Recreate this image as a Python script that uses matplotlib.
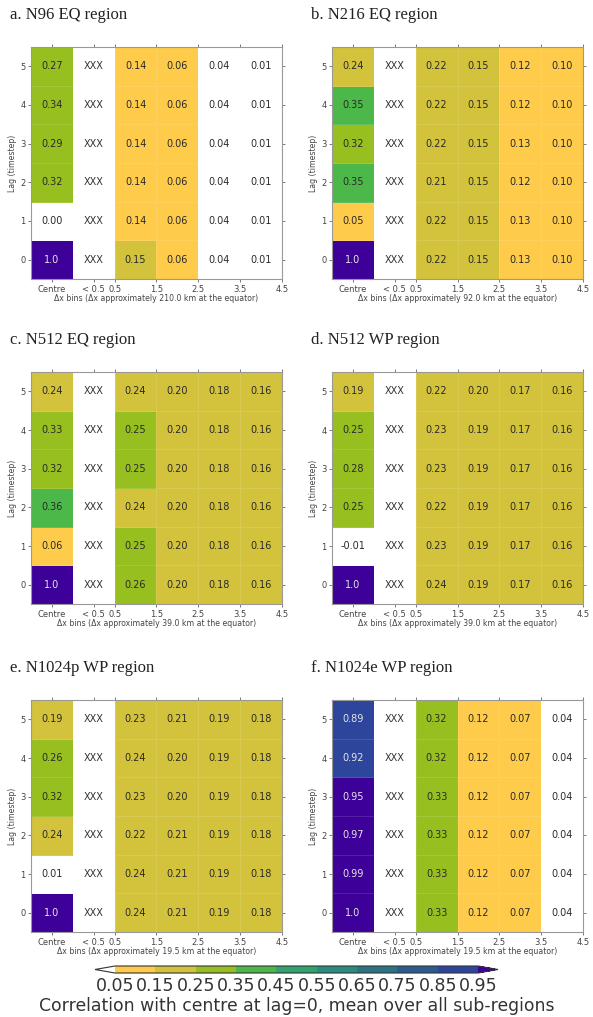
import numpy as np
import matplotlib
matplotlib.use('Agg')
import matplotlib.pyplot as plt
from matplotlib.colors import ListedColormap, BoundaryNorm
from matplotlib.cm import ScalarMappable

# Data: rows = lag 0..5, columns = Centre, <0.5 (no data), 0.5-1.5, 1.5-2.5, 2.5-3.5, 3.5-4.5
X = np.nan
n96_eq = [
    [1.0, X, 0.15, 0.06, 0.04, 0.01],
    [0.00, X, 0.14, 0.06, 0.04, 0.01],
    [0.32, X, 0.14, 0.06, 0.04, 0.01],
    [0.29, X, 0.14, 0.06, 0.04, 0.01],
    [0.34, X, 0.14, 0.06, 0.04, 0.01],
    [0.27, X, 0.14, 0.06, 0.04, 0.01],
]
n216_eq = [
    [1.0, X, 0.22, 0.15, 0.13, 0.10],
    [0.05, X, 0.22, 0.15, 0.13, 0.10],
    [0.35, X, 0.21, 0.15, 0.12, 0.10],
    [0.32, X, 0.22, 0.15, 0.13, 0.10],
    [0.35, X, 0.22, 0.15, 0.12, 0.10],
    [0.24, X, 0.22, 0.15, 0.12, 0.10],
]
n512_eq = [
    [1.0, X, 0.26, 0.20, 0.18, 0.16],
    [0.06, X, 0.25, 0.20, 0.18, 0.16],
    [0.36, X, 0.24, 0.20, 0.18, 0.16],
    [0.32, X, 0.25, 0.20, 0.18, 0.16],
    [0.33, X, 0.25, 0.20, 0.18, 0.16],
    [0.24, X, 0.24, 0.20, 0.18, 0.16],
]
n512_wp = [
    [1.0, X, 0.24, 0.19, 0.17, 0.16],
    [-0.01, X, 0.23, 0.19, 0.17, 0.16],
    [0.25, X, 0.22, 0.19, 0.17, 0.16],
    [0.28, X, 0.23, 0.19, 0.17, 0.16],
    [0.25, X, 0.23, 0.19, 0.17, 0.16],
    [0.19, X, 0.22, 0.20, 0.17, 0.16],
]
n1024p_wp = [
    [1.0, X, 0.24, 0.21, 0.19, 0.18],
    [0.01, X, 0.24, 0.21, 0.19, 0.18],
    [0.24, X, 0.22, 0.21, 0.19, 0.18],
    [0.32, X, 0.23, 0.20, 0.19, 0.18],
    [0.26, X, 0.24, 0.20, 0.19, 0.18],
    [0.19, X, 0.23, 0.21, 0.19, 0.18],
]
n1024e_wp = [
    [1.0, X, 0.33, 0.12, 0.07, 0.04],
    [0.99, X, 0.33, 0.12, 0.07, 0.04],
    [0.97, X, 0.33, 0.12, 0.07, 0.04],
    [0.95, X, 0.33, 0.12, 0.07, 0.04],
    [0.92, X, 0.32, 0.12, 0.07, 0.04],
    [0.89, X, 0.32, 0.12, 0.07, 0.04],
]

titles = ['a. N96 EQ region', 'b. N216 EQ region', 'c. N512 EQ region',
          'd. N512 WP region', 'e. N1024p WP region', 'f. N1024e WP region']
dx_km = ['210.0', '92.0', '39.0', '39.0', '19.5', '19.5']
panels = [n96_eq, n216_eq, n512_eq, n512_wp, n1024p_wp, n1024e_wp]

lags = [0, 1, 2, 3, 4, 5]
xtick_labels = ['Centre', '< 0.5', '0.5', '1.5', '2.5', '3.5', '4.5']
levels = [0.05, 0.15, 0.25, 0.35, 0.45, 0.55, 0.65, 0.75, 0.85, 0.95]

colours = ['#fecb4a', '#d3c23b', '#97bf20', '#4cb849', '#30a36e',
           '#2d8c80', '#2a7483', '#2b5c90', '#2d469c']
cmap = ListedColormap(colours)
cmap.set_under('white')
cmap.set_over('#3d0098')
cmap.set_bad('white')
norm = BoundaryNorm(levels, cmap.N)

W, H = 593, 1017
fig = plt.figure(figsize=(W / 100, H / 100), dpi=100)

lefts = [31, 332]
tops = [47, 372, 700]
ax_w, ax_h = 251, 232

for i, data in enumerate(panels):
    row, col = divmod(i, 2)
    x0, y0 = lefts[col], tops[row]
    ax = fig.add_axes([x0 / W, 1 - (y0 + ax_h) / H, ax_w / W, ax_h / H])
    arr = np.ma.masked_invalid(np.array(data, dtype=float))
    ax.pcolormesh(np.arange(7) - 0.5, np.arange(7) - 0.5, arr, cmap=cmap, norm=norm,
                  edgecolors=(1, 1, 1, 0.12), linewidth=0.4)
    for lag in lags:
        for j, v in enumerate(data[lag]):
            if np.isnan(v):
                txt, tc = 'XXX', '#333333'
            else:
                txt = '1.0' if v == 1.0 else '%.2f' % v
                tc = '#e6e6e6' if v >= 0.75 else '#2a2a2a'
            ax.text(j, lag, txt, ha='center', va='center', fontsize=7, color=tc)
    ax.set_xlim(-0.5, 5.5)
    ax.set_ylim(-0.5, 5.5)
    ax.set_xticks([0, 1, 1.5, 2.5, 3.5, 4.5, 5.5])
    ax.set_xticklabels(xtick_labels)
    ax.set_yticks(lags)
    ax.tick_params(labelsize=6, colors='#444444', length=2, width=0.5,
                   top=True, right=True, pad=2)
    for s in ax.spines.values():
        s.set_color('#999999')
        s.set_linewidth(0.8)
    ax.set_xlabel('\u0394x bins (\u0394x approximately %s km at the equator)' % dx_km[i],
                  fontsize=5.6, color='#444444', labelpad=0)
    ax.set_ylabel('Lag (timestep)', fontsize=5.6, color='#444444', labelpad=2)
    fig.text((x0 - 21) / W, 1 - (y0 - 32) / H, titles[i], family='Liberation Serif',
             fontsize=12, ha='left', va='center', color='#222222')

cax = fig.add_axes([95 / W, 1 - 973 / H, 403 / W, 7 / H])
sm = ScalarMappable(norm=norm, cmap=cmap)
cb = fig.colorbar(sm, cax=cax, orientation='horizontal', extend='both',
                  ticks=levels, extendfrac=0.055, drawedges=False)
cb.ax.set_xticklabels(['%.2f' % v for v in levels])
cb.ax.tick_params(labelsize=12.5, length=0, pad=3, colors='#333333')
cb.outline.set_edgecolor('#333333')
cb.outline.set_linewidth(0.8)
cb.set_label('Correlation with centre at lag=0, mean over all sub-regions',
             fontsize=12.4, color='#333333', labelpad=1)

fig.savefig('out.png', dpi=100)
